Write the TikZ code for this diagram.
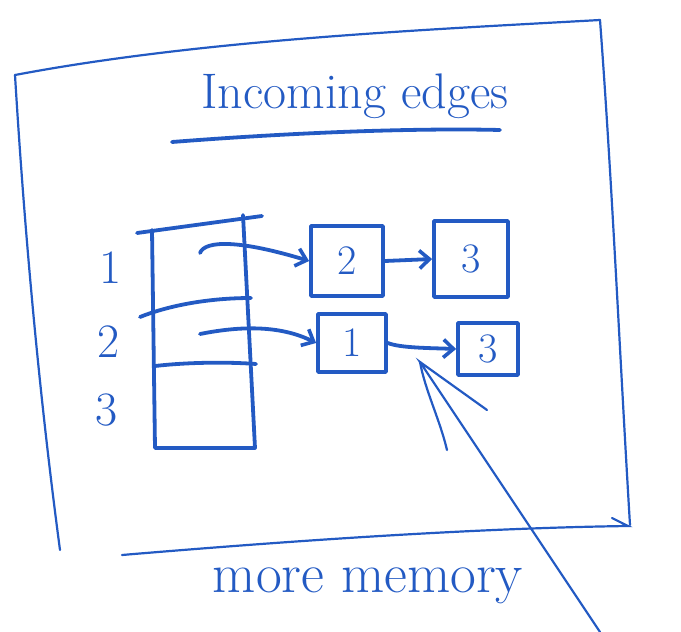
\documentclass[tikz,border=0pt]{standalone}
\usetikzlibrary{arrows.meta}
\definecolor{ink}{RGB}{35,90,195}
\begin{document}
\begin{tikzpicture}[x=1pt,y=-1pt,
  pen/.style={draw=ink,line width=3.8pt,line cap=round,line join=round},
  thin pen/.style={draw=ink,line width=2.2pt,line cap=round},
  cell/.style={pen,minimum width=68pt,minimum height=62pt,inner sep=0pt,font=\fontsize{42}{42}\selectfont,text=ink},
  lbl/.style={text=ink,font=\fontsize{48}{48}\selectfont},
  arr/.style={pen,-{Straight Barb[length=10pt,width=18pt,line width=3.6pt]}}]
\useasboundingbox (0,0) rectangle (681,632);
% frame
\draw[thin pen] (15,75) .. controls (200,40) and (420,30) .. (600,20);
\draw[thin pen] (600,20) .. controls (612,180) and (620,360) .. (630,525);
\draw[thin pen] (15,75) .. controls (25,240) and (40,400) .. (60,550);
\draw[thin pen] (122,555) .. controls (300,540) and (480,528) .. (628,526) -- (612,518);
% title
\node[text=ink,font=\fontsize{50}{50}\selectfont] (title) at (355,96) {Incoming edges};
\draw[pen] (172,142) .. controls (300,132) and (420,128) .. (500,130);
% array
\coordinate (a1) at (152,230);
\coordinate (a2) at (255,448);
\draw[pen] (a1) -- (155,448) -- (a2) -- (243,215);
\draw[pen] (137,233) -- (262,216);
\draw[pen] (140,317) .. controls (170,305) and (210,298) .. (251,298);
\draw[pen] (155,366) .. controls (190,362) and (230,362) .. (256,364);
\node[lbl] (r1) at (111,268) {1};
\node[lbl] (r2) at (109,342) {2};
\node[lbl] (r3) at (107,410) {3};
% list nodes
\node[cell,minimum width=72pt,minimum height=70pt] (n2) at (347,261) {2};
\node[cell,minimum width=74pt,minimum height=76pt] (n3a) at (471,259) {3};
\node[cell,minimum width=68pt,minimum height=58pt] (n1) at (352,343) {1};
\node[cell,minimum width=60pt,minimum height=52pt] (n3b) at (488,349) {3};
% arrows
\coordinate (s1) at (200,253);
\coordinate (s2) at (200,334);
\draw[arr] (s1) .. controls (205,240) and (240,240) .. (n2.west);
\draw[arr] (s2) .. controls (240,326) and (280,325) .. (n1.west);
\draw[arr] (n2.east) -- (n3a.west);
\draw[arr] (n1.east) .. controls (400,348) and (430,348) .. (n3b.west);
% pointer
\coordinate (tip) at (420,362);
\coordinate (tail) at (600,632);
\draw[thin pen] (tail) -- (tip) -- (487,410);
\draw[thin pen] (tip) .. controls (425,390) and (440,420) .. (447,450);
% bottom label
\node[text=ink,font=\fontsize{56}{56}\selectfont] (mem) at (368,586) {more memory};
\end{tikzpicture}
\end{document}
